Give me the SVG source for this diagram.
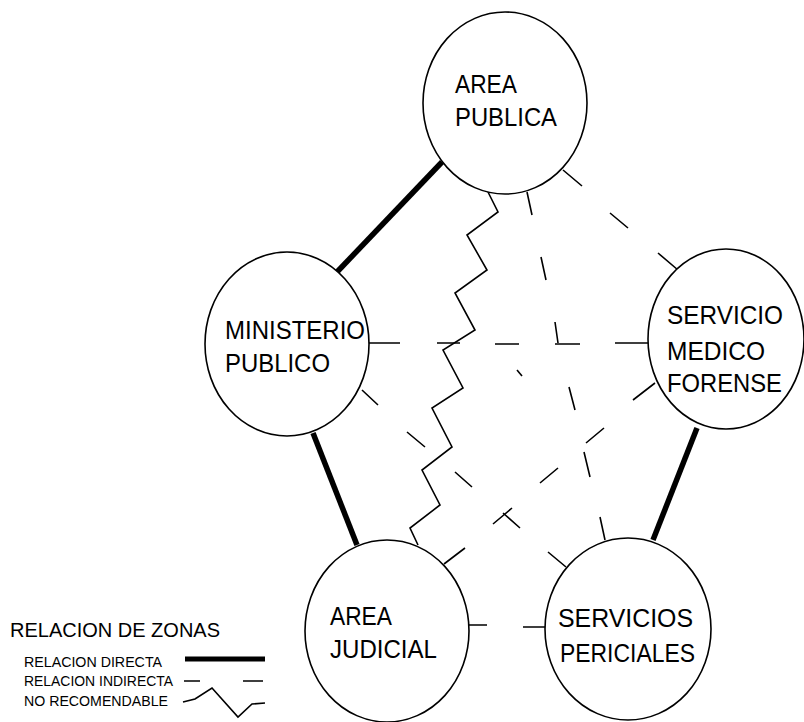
<svg xmlns="http://www.w3.org/2000/svg" width="804" height="722" viewBox="0 0 804 722">
<style>
.node ellipse{fill:#fff;stroke:#000;stroke-width:1.6}
.lbl{font-family:"Liberation Sans",Arial,sans-serif;font-size:25px;fill:#000}
.dir{fill:none;stroke:#000;stroke-width:5.5;stroke-linecap:butt}
.ind{fill:none;stroke:#000;stroke-width:1.6}
.zz{fill:none;stroke:#000;stroke-width:1.6;stroke-linejoin:miter}
.leg{font-family:"Liberation Sans",Arial,sans-serif;font-size:14px;fill:#000}
.legt{font-family:"Liberation Sans",Arial,sans-serif;font-size:21px;fill:#000}
</style>
<rect width="804" height="722" fill="#fff"/>
<g id="connectors">
  <path class="dir" d="M442,162 L337,272"/>
  <path class="dir" d="M313,433 L357,545"/>
  <path class="dir" d="M697,428 L653,540"/>
  <path class="zz" d="M488,192 L498,212 L467,235 L487,270 L455,293 L475,330 L443,350 L463,388 L432,408 L452,447 L422,470 L440,505 L410,528 L418,545"/>
  <path class="ind" d="M563,170 L582,186 M610,213 L628,228 M658,253 L678,270"/>
  <path class="ind" d="M527,192 L532,215 M541,257 L546,280 M555,322 L558,343 M569,387 L575,410 M584,452 L590,477 M600,517 L605,540"/>
  <path class="ind" d="M368,343 L400,343 M437,343 L460,343 M495,344 L519,344 M555,344 L580,344 M615,343 L648,343"/>
  <path class="ind" d="M362,390 L378,405 M407,432 L425,447 M455,472 L472,487 M503,513 L520,528 M548,552 L566,567"/>
  <path class="ind" d="M444,564 L465,548 M493,524 L512,508 M540,483 L558,468 M586,443 L604,428 M633,400 L655,383"/>
  <path class="ind" d="M467,625 L487,625 M523,627 L546,627"/>
  <path class="ind" d="M517,370 L522,376"/>
</g>
<g id="area-publica" class="node">
  <ellipse cx="505" cy="103" rx="82" ry="91"/>
  <text class="lbl" x="455" y="93" textLength="62" lengthAdjust="spacingAndGlyphs">AREA</text>
  <text class="lbl" x="455" y="126" textLength="102" lengthAdjust="spacingAndGlyphs">PUBLICA</text>
</g>
<g id="ministerio-publico" class="node">
  <ellipse cx="287" cy="344" rx="82" ry="92"/>
  <text class="lbl" x="225" y="339" textLength="140" lengthAdjust="spacingAndGlyphs">MINISTERIO</text>
  <text class="lbl" x="225" y="372" textLength="105" lengthAdjust="spacingAndGlyphs">PUBLICO</text>
</g>
<g id="servicio-medico-forense" class="node">
  <ellipse cx="726" cy="339" rx="78" ry="90"/>
  <text class="lbl" x="667" y="324" textLength="116" lengthAdjust="spacingAndGlyphs">SERVICIO</text>
  <text class="lbl" x="667" y="360" textLength="98" lengthAdjust="spacingAndGlyphs">MEDICO</text>
  <text class="lbl" x="667" y="392" textLength="115" lengthAdjust="spacingAndGlyphs">FORENSE</text>
</g>
<g id="area-judicial" class="node">
  <ellipse cx="387" cy="631" rx="82" ry="91"/>
  <text class="lbl" x="330" y="625" textLength="62" lengthAdjust="spacingAndGlyphs">AREA</text>
  <text class="lbl" x="330" y="658" textLength="107" lengthAdjust="spacingAndGlyphs">JUDICIAL</text>
</g>
<g id="servicios-periciales" class="node">
  <ellipse cx="628" cy="629" rx="83" ry="91"/>
  <text class="lbl" x="558" y="627" textLength="135" lengthAdjust="spacingAndGlyphs">SERVICIOS</text>
  <text class="lbl" x="560" y="662" textLength="135" lengthAdjust="spacingAndGlyphs">PERICIALES</text>
</g>
<g id="legend">
  <text class="legt" x="10" y="637" textLength="210" lengthAdjust="spacingAndGlyphs">RELACION DE ZONAS</text>
  <text class="leg" x="24" y="667" textLength="138" lengthAdjust="spacingAndGlyphs">RELACION DIRECTA</text>
  <text class="leg" x="24" y="686" textLength="149" lengthAdjust="spacingAndGlyphs">RELACION INDIRECTA</text>
  <text class="leg" x="24" y="706" textLength="144" lengthAdjust="spacingAndGlyphs">NO RECOMENDABLE</text>
  <path class="dir" d="M185,659 L265,659" style="stroke-width:5"/>
  <path class="ind" d="M184,681 L200,681 M243,681 L263,681"/>
  <path class="zz" d="M183,702 L195,699 L212,688 L238,717 L252,704 L265,703"/>
</g>
</svg>
